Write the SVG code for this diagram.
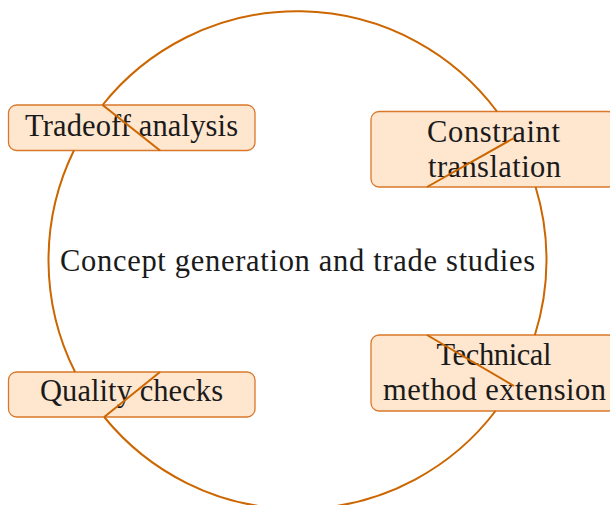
<svg xmlns="http://www.w3.org/2000/svg" width="610" height="505" viewBox="0 0 610 505">
<style>
.box{fill:#ffe6cf;stroke:#d9782a;stroke-width:1.3}
.lbl{font-family:"Liberation Serif","Times New Roman",serif;font-size:30.5px;fill:#1a1a1a;text-anchor:middle}
.edge{fill:none;stroke:#cc6600;stroke-width:2;stroke-linecap:butt}
</style>
<rect width="610" height="505" fill="#ffffff"/>
<g id="center">
<text class="lbl" x="297.5" y="271" textLength="475" lengthAdjust="spacing">Concept generation and trade studies</text>
</g>
<g id="tradeoff">
<rect class="box" x="8.5" y="105" width="246.5" height="45.5" rx="8"/>
<text class="lbl" x="131.5" y="135.5" textLength="213" lengthAdjust="spacing">Tradeoff analysis</text>
</g>
<g id="constraint">
<rect class="box" x="371" y="111.5" width="245" height="75.5" rx="8"/>
<text class="lbl" x="493.5" y="141.5" textLength="133" lengthAdjust="spacing">Constraint</text>
<text class="lbl" x="494.5" y="177" textLength="133" lengthAdjust="spacing">translation</text>
</g>
<g id="technical">
<rect class="box" x="371" y="335" width="245" height="76" rx="8"/>
<text class="lbl" x="494" y="364.5" textLength="115" lengthAdjust="spacing">Technical</text>
<text class="lbl" x="494.5" y="400" textLength="223" lengthAdjust="spacing">method extension</text>
</g>
<g id="quality">
<rect class="box" x="8.5" y="372" width="246.5" height="45" rx="8"/>
<text class="lbl" x="131.5" y="401" textLength="183" lengthAdjust="spacing">Quality checks</text>
</g>
<g id="connectors">
<path class="edge" d="M102.6,105 A249,249 0 0 1 497,111.5"/>
<path class="edge" d="M535.6,187 A249,249 0 0 1 534.9,335"/>
<path class="edge" d="M495.5,411 A249,249 0 0 1 104.2,417"/>
<path class="edge" d="M75.1,372 A249,249 0 0 1 73.9,150.5"/>
<line class="edge" x1="102.6" y1="105" x2="160" y2="150.5"/>
<line class="edge" x1="160" y1="372" x2="104.2" y2="417"/>
<line class="edge" x1="427" y1="187" x2="514" y2="138"/>
<line class="edge" x1="427" y1="335" x2="514" y2="386"/>
</g>
</svg>
